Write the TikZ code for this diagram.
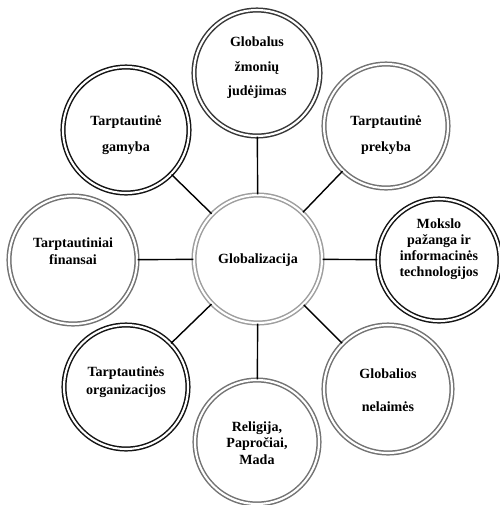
\documentclass[tikz,border=0pt]{standalone}
\usepackage{fontspec}
\setmainfont{Liberation Serif}
\definecolor{ringblack}{gray}{0.08}
\definecolor{ringdark}{gray}{0.22}
\definecolor{ringgray}{gray}{0.45}
\definecolor{ringlight}{gray}{0.62}
\tikzset{
  ring/.style={circle, draw=#1, double=white, double distance=1.2pt, line width=0.85pt, inner sep=0pt},
  txt/.style={font=\fontsize{8}{#1}\selectfont\bfseries, align=center, inner sep=0pt},
  link/.style={line width=0.8pt, black}
}
\begin{document}
\begin{tikzpicture}[x=0.02cm,y=-0.02cm]
                \useasboundingbox (0,0) rectangle (500,505);

                % Marking centre circle Globalizacija
                \node [ring=ringlight, minimum size=2.56cm] (glob) at (258,259) {};%

                % Marking outer circles
                \node [ring=ringdark, minimum size=2.52cm] (zmones) at (257,73) {};%
                \node [ring=ringgray, minimum size=2.48cm] (prekyba) at (386,126) {};%
                \node [ring=ringblack, minimum size=2.44cm] (mokslas) at (439,260) {};%
                \node [ring=ringgray, minimum size=2.56cm] (nelaimes) at (388,389) {};%
                \node [ring=ringgray, minimum size=2.48cm] (religija) at (257,442) {};%
                \node [ring=ringblack, minimum size=2.48cm] (organizacijos) at (126,387) {};%
                \node [ring=ringgray, minimum size=2.56cm] (finansai) at (73,260) {};%
                \node [ring=ringblack, minimum size=2.52cm] (gamyba) at (126,130) {};%

                % Drawing segments from centre to outer circles
                \foreach \outer in {zmones,prekyba,mokslas,nelaimes,religija,organizacijos,finansai,gamyba}
                  \draw [link] (glob) -- (\outer);%

                % Marking texts
                \node [txt=10] (globT) at (258,260) {Globalizacija};%
                \node [txt=14] (zmonesT) at (257,68) {Globalus\\žmonių\\judėjimas};%
                \node [txt=15] (prekybaT) at (386,135) {Tarptautinė\\prekyba};%
                \node [txt=9] (mokslasT) at (439,249) {Mokslo\\pažanga ir\\informacinės\\technologijos};%
                \node [txt=19] (nelaimesT) at (388,390) {Globalios\\nelaimės};%
                \node [txt=9.5] (religijaT) at (257,443) {Religija,\\Papročiai,\\Mada};%
                \node [txt=10] (organizacijosT) at (126,382) {Tarptautinės\\organizacijos};%
                \node [txt=10] (finansaiT) at (73,251) {Tarptautiniai\\finansai};%
                \node [txt=15] (gamybaT) at (126,135) {Tarptautinė\\gamyba};%
\end{tikzpicture}
\end{document}
